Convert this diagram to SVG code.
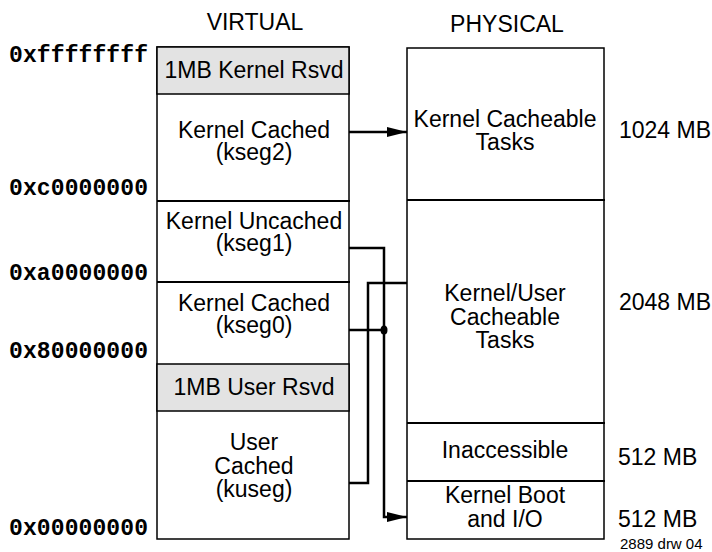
<svg xmlns="http://www.w3.org/2000/svg" width="712" height="552" viewBox="0 0 712 552">
<style>
.t{font-family:"Liberation Sans",Arial,sans-serif;font-size:23px;fill:#000;text-anchor:middle}
.m{font-family:"Liberation Mono","Courier New",monospace;font-size:23px;font-weight:bold;fill:#000}
.s{font-family:"Liberation Sans",Arial,sans-serif;font-size:23px;fill:#000}
.box{fill:#fff;stroke:#000;stroke-width:1.5}
.gray{fill:#e3e3e3;stroke:#000;stroke-width:1.5}
.div{stroke:#000;stroke-width:2;fill:none}
.c{stroke:#000;stroke-width:2.5;fill:none}
</style>
<defs>
<marker id="ah" viewBox="0 0 20 10" refX="20" refY="5" markerWidth="20" markerHeight="10" markerUnits="userSpaceOnUse" orient="auto">
<path d="M0,0 L20,5 L0,10 Z" fill="#000"/>
</marker>
</defs>
<rect width="712" height="552" fill="#fff"/>
<text class="t" x="255" y="30">VIRTUAL</text>
<text class="t" x="507" y="32">PHYSICAL</text>
<g id="addr">
<text class="m" x="9" y="62" textLength="139" lengthAdjust="spacing">0xffffffff</text>
<text class="m" x="9" y="195" textLength="139" lengthAdjust="spacing">0xc0000000</text>
<text class="m" x="9" y="280" textLength="139" lengthAdjust="spacing">0xa0000000</text>
<text class="m" x="9" y="358" textLength="139" lengthAdjust="spacing">0x80000000</text>
<text class="m" x="9" y="535" textLength="139" lengthAdjust="spacing">0x00000000</text>
</g>
<g id="virtual">
<rect class="box" x="157" y="47" width="192" height="492"/>
<g id="v-krsvd"><rect class="gray" x="157" y="47" width="192" height="47"/><text class="t" x="254" y="78">1MB Kernel Rsvd</text></g>
<g id="v-kseg2"><text class="t" x="254" y="138">Kernel Cached</text><text class="t" x="254" y="160">(kseg2)</text></g>
<line class="div" x1="157" y1="201" x2="350" y2="201"/>
<g id="v-kseg1"><text class="t" x="254" y="229">Kernel Uncached</text><text class="t" x="254" y="251">(kseg1)</text></g>
<line class="div" x1="157" y1="282" x2="350" y2="282"/>
<g id="v-kseg0"><text class="t" x="254" y="311">Kernel Cached</text><text class="t" x="254" y="333">(kseg0)</text></g>
<g id="v-ursvd"><rect class="gray" x="157" y="364" width="192" height="47"/><text class="t" x="254" y="395">1MB User Rsvd</text></g>
<g id="v-kuseg"><text class="t" x="254" y="450">User</text><text class="t" x="254" y="474">Cached</text><text class="t" x="254" y="497">(kuseg)</text></g>
</g>
<g id="physical">
<rect class="box" x="407" y="48" width="197" height="491"/>
<g id="p-kct"><text class="t" x="505" y="127">Kernel Cacheable</text><text class="t" x="505" y="150">Tasks</text></g>
<line class="div" x1="407" y1="200" x2="605" y2="200" stroke-width="2.5"/>
<g id="p-kuct"><text class="t" x="505" y="301">Kernel/User</text><text class="t" x="505" y="325">Cacheable</text><text class="t" x="505" y="348">Tasks</text></g>
<line class="div" x1="407" y1="423" x2="605" y2="423" stroke-width="2.5"/>
<g id="p-inacc"><text class="t" x="505" y="458">Inaccessible</text></g>
<line class="div" x1="407" y1="481" x2="605" y2="481" stroke-width="2.5"/>
<g id="p-boot"><text class="t" x="505" y="503">Kernel Boot</text><text class="t" x="505" y="527">and I/O</text></g>
</g>
<g id="sizes">
<text class="s" x="619" y="138">1024 MB</text>
<text class="s" x="619" y="310">2048 MB</text>
<text class="s" x="618" y="465">512 MB</text>
<text class="s" x="618" y="527">512 MB</text>
<text class="s" x="620" y="549" style="font-size:15px">2889 drw 04</text>
</g>
<g id="connectors">
<line class="c" x1="349" y1="132" x2="407" y2="132" marker-end="url(#ah)"/>
<path class="c" d="M349,248 H384 V517 H407" marker-end="url(#ah)"/>
<line class="c" x1="349" y1="330" x2="384" y2="330"/>
<ellipse cx="384" cy="330" rx="3.5" ry="4.5" fill="#000"/>
<path class="c" d="M407,283 H368 V483 H349"/>
</g>
</svg>
